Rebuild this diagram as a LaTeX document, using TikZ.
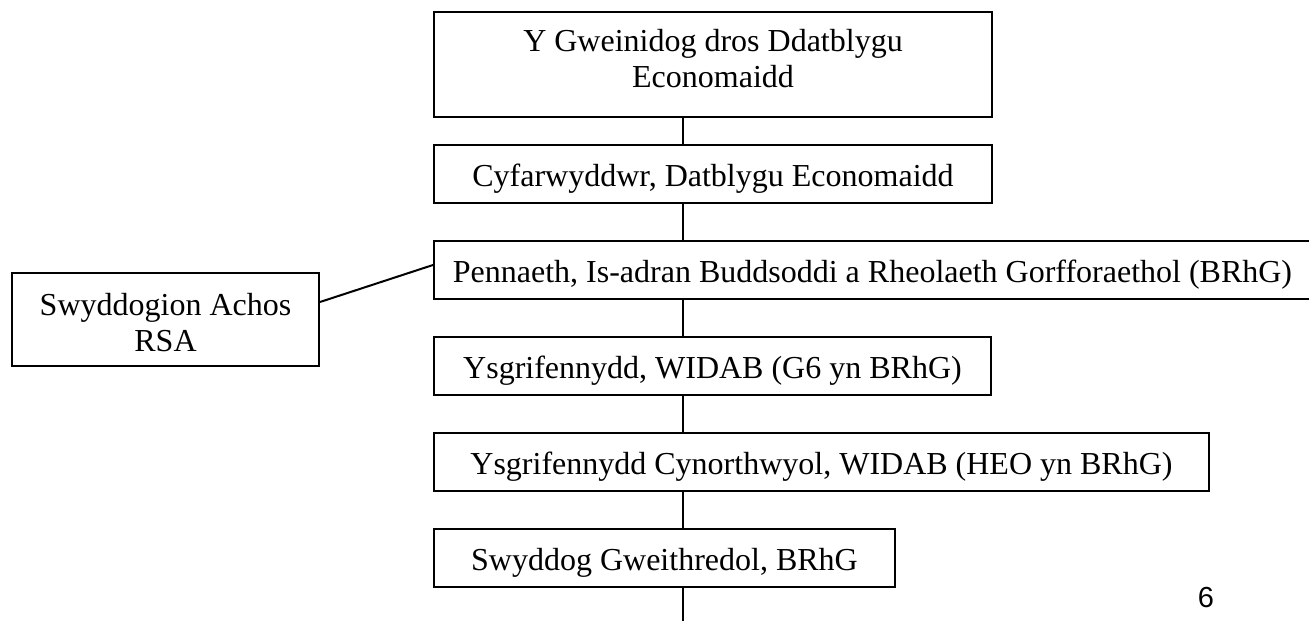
\documentclass[tikz,border=0pt]{standalone}
\usepackage{fontspec}
\setmainfont{Liberation Serif}
\newfontfamily\pagefont{Liberation Sans}
\begin{document}
\begin{tikzpicture}[x=0.5pt,y=-0.5pt,
  orgbox/.style={draw=black, line width=1pt, anchor=north west, inner sep=0pt,
    align=center, font=\fontsize{16}{18}\selectfont, text height=12pt, text depth=0pt},
  link/.style={draw=black, line width=1pt}]
\useasboundingbox (0,0) rectangle (1309,620);
\node[orgbox, minimum width=279pt, minimum height=52.5pt, text height=23.5pt] (b1) at (433,11)
  {\begin{tabular}[b]{@{}c@{}}Y Gweinidog dros Ddatblygu\\Economaidd\end{tabular}};
\node[orgbox, minimum width=279pt, minimum height=29pt] (b2) at (433,144) {Cyfarwyddwr, Datblygu Economaidd};
\node[orgbox, minimum width=438.5pt, minimum height=29pt] (b3) at (433,240) {Pennaeth, Is-adran Buddsoddi a Rheolaeth Gorfforaethol (BRhG)};
\node[orgbox, minimum width=278.5pt, minimum height=29pt] (b4) at (433,336) {Ysgrifennydd, WIDAB (G6 yn BRhG)};
\node[orgbox, minimum width=387.5pt, minimum height=29pt] (b5) at (433,432) {Ysgrifennydd Cynorthwyol, WIDAB (HEO yn BRhG)};
\node[orgbox, minimum width=230.5pt, minimum height=29pt] (b6) at (433,528) {Swyddog Gweithredol, BRhG};
\node[orgbox, minimum width=153.5pt, minimum height=46.5pt, text height=31.5pt] (rsa) at (11,272)
  {\begin{tabular}[b]{@{}c@{}}Swyddogion Achos\\RSA\end{tabular}};
\coordinate (spine) at (683,0);
\coordinate (bot) at (683,622);
\draw[link] (b1.south -| spine) -- (b2.north -| spine);
\draw[link] (b2.south -| spine) -- (b3.north -| spine);
\draw[link] (b3.south -| spine) -- (b4.north -| spine);
\draw[link] (b4.south -| spine) -- (b5.north -| spine);
\draw[link] (b5.south -| spine) -- (b6.north -| spine);
\draw[link] (b6.south -| spine) -- (bot);
\draw[link] ([yshift=8.75pt]rsa.east) -- ([yshift=2.5pt]b3.west);
\node[font=\pagefont\fontsize{14.5}{17}\selectfont, inner sep=0pt] (pg) at (1206,598) {6};
\end{tikzpicture}
\end{document}
